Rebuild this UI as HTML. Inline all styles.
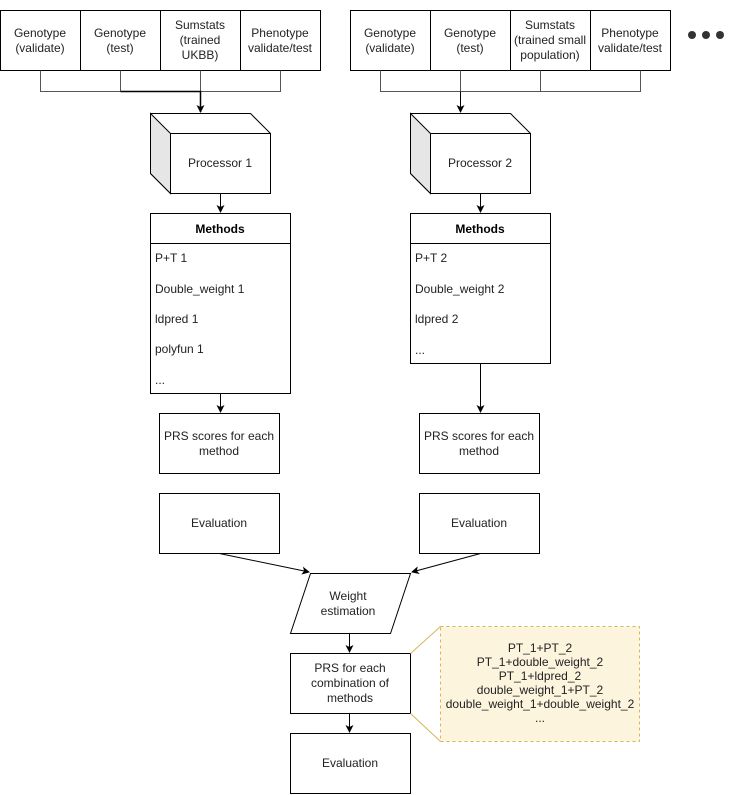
<!DOCTYPE html>
<html><head><meta charset="utf-8"><style>body{margin:0;background:#fff}svg{display:block}text{font-family:"Liberation Sans",sans-serif;font-size:12px;fill:#222}</style></head><body>
<svg width="731" height="795" viewBox="0 0 731 795" xmlns="http://www.w3.org/2000/svg">
<defs><marker id="a" markerWidth="8" markerHeight="8" refX="7" refY="4" orient="auto" markerUnits="userSpaceOnUse"><path d="M0,0 L8,4 L0,8 L2,4z" fill="#000"/></marker></defs>
<g fill="#fff" stroke="#000">
<rect x="0.5" y="10.5" width="320" height="60"/><path d="M80.5 10.5V70.5M160.5 10.5V70.5M240.5 10.5V70.5"/>
<rect x="350.5" y="10.5" width="320" height="60"/><path d="M430.5 10.5V70.5M510.5 10.5V70.5M590.5 10.5V70.5"/>
</g>
<g fill="none" stroke="#555">
<path d="M40.5 70.5V91.5H280.5V70.5M120.5 70.5V91.5M200.5 70.5V91.5"/>
<path d="M380.5 70.5V91.5H640.5V70.5M460.5 70.5V91.5M540.5 70.5V91.5"/>
</g>
<g stroke="#000" fill="none">
<path d="M120.5 91.5H200.5V112" stroke-width="1.5" marker-end="url(#a)"/>
<path d="M460.5 91.5V112" marker-end="url(#a)"/>
</g>
<g stroke="#000">
<path d="M150.5 113.5H250.5L270.5 133.5V193.5H170.5L150.5 173.5Z" fill="#fff"/>
<path d="M150.5 113.5L170.5 133.5V193.5L150.5 173.5Z" fill="#e6e6e6"/>
<path d="M170.5 133.5H270.5" fill="none"/>
<path d="M410.5 113.5H510.5L530.5 133.5V193.5H430.5L410.5 173.5Z" fill="#fff"/>
<path d="M410.5 113.5L430.5 133.5V193.5L410.5 173.5Z" fill="#e6e6e6"/>
<path d="M430.5 133.5H530.5" fill="none"/>
</g>
<g fill="#fff" stroke="#000">
<rect x="150.5" y="213.5" width="140" height="180"/><path d="M150.5 243.5H290.5"/>
<rect x="410.5" y="213.5" width="140" height="150"/><path d="M410.5 243.5H550.5"/>
<rect x="159.5" y="413.5" width="120" height="60"/><rect x="419.5" y="413.5" width="120" height="60"/>
<rect x="159.5" y="493.5" width="120" height="60"/><rect x="419.5" y="493.5" width="120" height="60"/>
<path d="M310.5 573.5H410.5L390.5 633.5H290.5Z"/>
<rect x="290.5" y="653.5" width="120" height="60"/><rect x="290.5" y="733.5" width="120" height="60"/>
</g>
<path d="M410.5 653.5L440.5 626.5M410.5 713.5L440.5 741.5" stroke="#d6b656" fill="none"/>
<rect x="440.5" y="626.5" width="199" height="115" fill="#fdf4de" stroke="#d6b656" stroke-dasharray="3 3"/>
<g stroke="#000" fill="none">
<path d="M220.5 193.5V212" marker-end="url(#a)"/>
<path d="M480.5 193.5V212" marker-end="url(#a)"/>
<path d="M220.5 393.5V412" marker-end="url(#a)"/>
<path d="M480.5 363.5V412" marker-end="url(#a)"/>
<path d="M219.5 553.5L309 572" marker-end="url(#a)"/>
<path d="M480.5 553.5L412 572" marker-end="url(#a)"/>
<path d="M349.5 633.5V652" marker-end="url(#a)"/>
<path d="M349.5 713.5V732" marker-end="url(#a)"/>
</g>
<g fill="#333"><circle cx="692" cy="35" r="4"/><circle cx="706" cy="35" r="4"/><circle cx="720" cy="35" r="4"/></g>
<g text-anchor="middle">
<text x="40" y="37">Genotype</text><text x="40" y="52">(validate)</text>
<text x="120" y="37">Genotype</text><text x="120" y="52">(test)</text>
<text x="200" y="29">Sumstats</text><text x="200" y="44">(trained</text><text x="200" y="59">UKBB)</text>
<text x="280" y="37">Phenotype</text><text x="280" y="52">validate/test</text>
<text x="390" y="37">Genotype</text><text x="390" y="52">(validate)</text>
<text x="470" y="37">Genotype</text><text x="470" y="52">(test)</text>
<text x="550" y="29">Sumstats</text><text x="550" y="44">(trained small</text><text x="550" y="59">population)</text>
<text x="630" y="37">Phenotype</text><text x="630" y="52">validate/test</text>
<text x="220" y="167">Processor 1</text><text x="480" y="167">Processor 2</text>
<text x="220" y="233" font-weight="bold" style="fill:#000">Methods</text><text x="480" y="233" font-weight="bold" style="fill:#000">Methods</text>
<text x="219" y="440">PRS scores for each</text><text x="219" y="455">method</text>
<text x="479" y="440">PRS scores for each</text><text x="479" y="455">method</text>
<text x="219" y="527">Evaluation</text><text x="479" y="527">Evaluation</text>
<text x="348" y="600">Weight</text><text x="348" y="615">estimation</text>
<text x="350" y="672">PRS for each</text><text x="350" y="687">combination of</text><text x="350" y="702">methods</text>
<text x="350" y="767">Evaluation</text>
<text x="540" y="652">PT_1+PT_2</text><text x="540" y="666">PT_1+double_weight_2</text><text x="540" y="680">PT_1+ldpred_2</text><text x="540" y="694">double_weight_1+PT_2</text><text x="540" y="708">double_weight_1+double_weight_2</text><text x="540" y="722">...</text>
</g>
<g>
<text x="155" y="262">P+T 1</text><text x="155" y="293">Double_weight 1</text><text x="155" y="323">ldpred 1</text><text x="155" y="353">polyfun 1</text><text x="155" y="384">...</text>
<text x="415" y="262">P+T 2</text><text x="415" y="293">Double_weight 2</text><text x="415" y="323">ldpred 2</text><text x="415" y="354">...</text>
</g>
</svg>
</body></html>
